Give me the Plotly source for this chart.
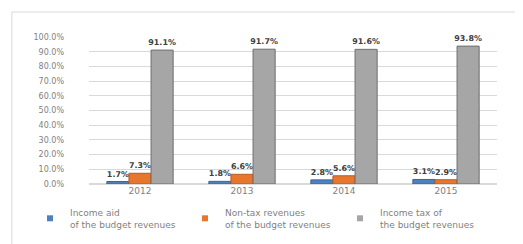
import plotly.graph_objects as go

years = ["2012", "2013", "2014", "2015"]
income_aid = [1.7, 1.8, 2.8, 3.1]
non_tax = [7.3, 6.6, 5.6, 2.9]
income_tax = [91.1, 91.7, 91.6, 93.8]

series_names = ["Income aid<br>of the budget revenues",
                "Non-tax revenues<br>of the budget revenues",
                "Income tax of<br>the budget revenues"]
colors = ["#4F81BD", "#E8772E", "#A6A6A6"]
line_colors = ["#3A6597", "#B85A1E", "#6E6E6E"]
legend_ids = ["legend", "legend2", "legend3"]
legend_x = [22, 177, 332]

fig = go.Figure()
for name, vals, c, lc in zip(series_names, [income_aid, non_tax, income_tax], colors, line_colors):
    fig.add_trace(go.Bar(
        x=years, y=vals, name=name, showlegend=False,
        marker=dict(color=c, line=dict(color=lc, width=1)),
        text=[f"<b>{v:.1f}%</b>" for v in vals],
        textposition="outside",
        textfont=dict(family="DejaVu Sans", size=8, color="#404040"),
        cliponaxis=False,
    ))
# legend entries with small square keys
for name, c, lid in zip(series_names, colors, legend_ids):
    fig.add_trace(go.Scatter(
        x=[None], y=[None], mode="markers", name=name, legend=lid,
        marker=dict(symbol="square", size=6, color=c),
        showlegend=True,
    ))

W, H = 515, 236
legend_common = dict(xref="container", yref="container", xanchor="left",
                     y=0.186, yanchor="top", font=dict(size=9, color="#7F7F7F"),
                     bgcolor="rgba(0,0,0,0)", itemwidth=30)

fig.update_layout(
    width=W, height=H,
    margin=dict(l=81, r=26, t=29, b=60, autoexpand=False),
    paper_bgcolor="white", plot_bgcolor="white",
    barmode="group", bargap=0.35, bargroupgap=0,
    font=dict(family="DejaVu Sans", size=8, color="#7F7F7F"),
    showlegend=True,
    legend=dict(x=legend_x[0] / W, **legend_common),
    legend2=dict(x=legend_x[1] / W, **legend_common),
    legend3=dict(x=legend_x[2] / W, **legend_common),
    xaxis=dict(showgrid=False, showline=False, ticks="",
               tickfont=dict(size=9, color="#7F7F7F"), ticklabelstandoff=0),
    yaxis=dict(range=[0, 100], dtick=10, ticksuffix="%", tickformat=".1f",
               showgrid=True, gridcolor="#D9D9D9", gridwidth=1,
               zeroline=True, zerolinecolor="#D9D9D9",
               tickfont=dict(size=8, color="#7F7F7F"),
               ticklabelstandoff=24),
    shapes=[dict(type="rect", xref="paper", yref="paper",
                 x0=-0.189, x1=1.056, y0=-0.45, y1=1.17,
                 line=dict(color="#D9D9D9", width=1))],
    uniformtext=dict(minsize=7, mode="show"),
)

fig.write_html("out.html")
